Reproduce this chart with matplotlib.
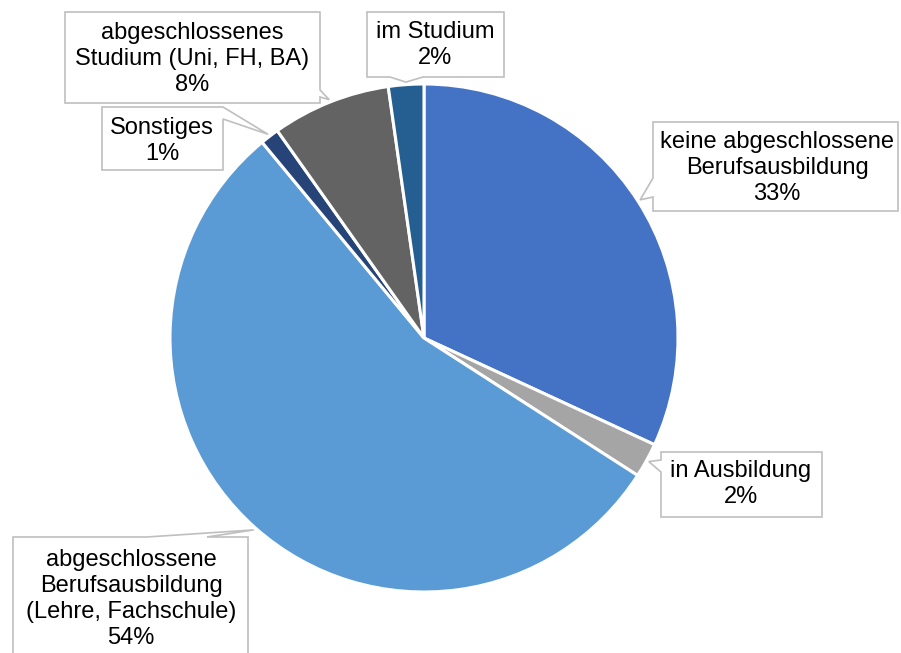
import matplotlib
matplotlib.use("Agg")
import numpy as np
import matplotlib.pyplot as plt
from matplotlib.patches import Polygon

plt.rcParams["font.family"] = ["Liberation Sans", "DejaVu Sans"]

categories = ["keine abgeschlossene\nBerufsausbildung",
              "in Ausbildung",
              "abgeschlossene\nBerufsausbildung\n(Lehre, Fachschule)",
              "Sonstiges",
              "abgeschlossenes\nStudium (Uni, FH, BA)",
              "im Studium"]
shares = [31.9, 2.2, 54.9, 1.2, 7.55, 2.25]
pct_labels = ["33%", "2%", "54%", "1%", "8%", "2%"]
colors = ["#4472C4", "#A5A5A5", "#5B9BD5", "#264478", "#636363", "#255E91"]

W, H = 901, 653
CX, CY, R = 424, 338, 254

# callout layout in image pixels: box (left, top, right, bottom), pointer side, pointer base, text centre
callouts = [
    ((653, 122, 898, 211), "left", (178, 197), (777, 168)),
    ((661, 452, 822, 517), "left", (460, 472), (741, 484)),
    ((13, 537, 248, 680), "top", (147, 207), (131, 599)),
    ((102, 107, 223, 170), "right", (107, 119), (162, 141)),
    ((65, 12, 320, 103), "right", (90, 97), (192, 59)),
    ((367, 12, 504, 77), "bottom", (390, 423), (435, 45)),
]


def fy(y):
    return H - y


def callout_polygon(box, side, base, tip):
    l, t, r, b = box
    s, e = base
    pts = [(l, t)]
    if side == "top":
        pts += [(s, t), tip, (e, t)]
    pts.append((r, t))
    if side == "right":
        pts += [(r, s), tip, (r, e)]
    pts.append((r, b))
    if side == "bottom":
        pts += [(e, b), tip, (s, b)]
    pts.append((l, b))
    if side == "left":
        pts += [(l, e), tip, (l, s)]
    return [(x, fy(y)) for x, y in pts]


fig = plt.figure(figsize=(9.01, 6.53), dpi=100)
ax = fig.add_axes([0, 0, 1, 1])

wedges, _ = ax.pie(shares, colors=colors, startangle=90, counterclock=False,
                   radius=R, center=(CX, fy(CY)),
                   wedgeprops=dict(edgecolor="white", linewidth=2.2))

for i, w in enumerate(wedges):
    box, side, base, txt = callouts[i]
    mid = np.deg2rad((w.theta1 + w.theta2) / 2)
    tip_x = CX + 1.01 * R * np.cos(mid)
    tip_y = CY - 1.01 * R * np.sin(mid)
    poly = Polygon(callout_polygon(box, side, base, (tip_x, tip_y)), closed=True,
                   facecolor="white", edgecolor="#BFBFBF", linewidth=1.2, zorder=3)
    ax.add_patch(poly)
    ax.text(txt[0], fy(txt[1]), categories[i] + "\n" + pct_labels[i],
            ha="center", va="center", fontsize=17, linespacing=1.25,
            color="black", zorder=4)

ax.set_xlim(0, W)
ax.set_ylim(0, H)
ax.set_aspect("equal")
ax.axis("off")

fig.savefig("out.png", dpi=100, facecolor="white")
